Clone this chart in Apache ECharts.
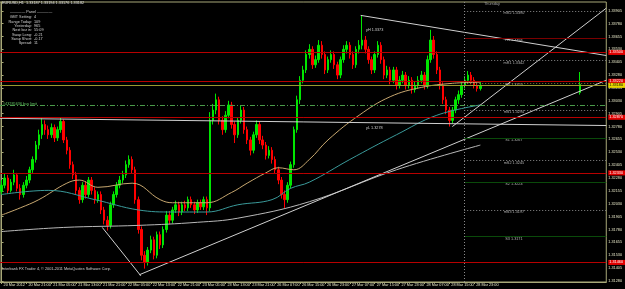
<!DOCTYPE html>
<html><head><meta charset="utf-8">
<script src="https://cdn.jsdelivr.net/npm/echarts@6/dist/echarts.min.js"></script>
<style>html,body{margin:0;padding:0;background:#000;overflow:hidden}#c{width:625px;height:289px}</style>
</head><body><div id="c"></div>
<script>
// ---- data ----
const priceTicks=[1.31280,1.31405,1.31530,1.31655,1.31780,1.31905,1.32030,1.32155,1.32280,1.32405,1.32530,1.32655,1.32780,1.32905,1.33030,1.33155,1.33280,1.33405,1.33530,1.33655,1.33780,1.33905];
const xTickLabels=['20 Mar 2012','20 Mar 21:00','21 Mar 05:00','21 Mar 13:00','21 Mar 21:00','22 Mar 05:00','22 Mar 13:00','22 Mar 21:00','23 Mar 05:00','23 Mar 13:00','23 Mar 21:00','26 Mar 07:00','26 Mar 15:00','26 Mar 23:00','27 Mar 07:00','27 Mar 15:00','27 Mar 23:00','28 Mar 07:00','28 Mar 15:00','28 Mar 23:00'];
// [open, close, low, high] per hourly bar
const candles=[
[1.3215,1.3221,1.3212,1.3226],[1.3221,1.3228,1.3218,1.3232],[1.3228,1.3216,1.3213,1.3231],[1.3216,1.3224,1.3214,1.3227],[1.3224,1.3231,1.3221,1.3236],
[1.3231,1.3218,1.3215,1.3233],[1.3218,1.3212,1.3207,1.3222],[1.3212,1.3221,1.3209,1.3224],[1.3221,1.3226,1.3218,1.3230],[1.3226,1.3236,1.3223,1.3239],
[1.3236,1.3246,1.3233,1.3249],[1.3246,1.3260,1.3243,1.3264],[1.3260,1.3270,1.3256,1.3275],[1.3270,1.3280,1.3266,1.3286],[1.3280,1.3275,1.3270,1.3284],
[1.3275,1.3270,1.3266,1.3279],[1.3270,1.3277,1.3267,1.3281],[1.3277,1.3267,1.3263,1.3280],[1.3267,1.3275,1.3264,1.3278],[1.3275,1.3283,1.3272,1.3287],
[1.3283,1.3265,1.3262,1.3285],[1.3265,1.3255,1.3251,1.3268],[1.3255,1.3241,1.3237,1.3258],[1.3241,1.3231,1.3227,1.3244],[1.3231,1.3216,1.3212,1.3234],
[1.3216,1.3207,1.3203,1.3219],[1.3207,1.3221,1.3204,1.3224],[1.3221,1.3212,1.3208,1.3225],[1.3212,1.3226,1.3209,1.3229],[1.3226,1.3216,1.3212,1.3229],
[1.3216,1.3207,1.3203,1.3219],[1.3207,1.3212,1.3204,1.3215],[1.3212,1.3197,1.3193,1.3215],[1.3197,1.3187,1.3183,1.3200],[1.3187,1.3182,1.3177,1.3191],
[1.3182,1.3202,1.3179,1.3205],[1.3202,1.3212,1.3199,1.3215],[1.3212,1.3221,1.3209,1.3224],[1.3221,1.3226,1.3218,1.3230],[1.3226,1.3231,1.3223,1.3235],
[1.3231,1.3241,1.3228,1.3245],[1.3241,1.3246,1.3238,1.3250],[1.3246,1.3236,1.3232,1.3249],[1.3236,1.3207,1.3203,1.3239],[1.3207,1.3178,1.3174,1.3210],
[1.3178,1.3153,1.3148,1.3181],[1.3153,1.3146,1.3140,1.3157],[1.3146,1.3158,1.3143,1.3161],[1.3158,1.3168,1.3155,1.3172],[1.3168,1.3153,1.3149,1.3171],
[1.3153,1.3173,1.3150,1.3176],[1.3173,1.3163,1.3159,1.3176],[1.3163,1.3178,1.3160,1.3181],[1.3178,1.3192,1.3175,1.3196],[1.3192,1.3187,1.3183,1.3196],
[1.3187,1.3197,1.3184,1.3200],[1.3197,1.3202,1.3194,1.3206],[1.3202,1.3195,1.3191,1.3205],[1.3195,1.3202,1.3192,1.3205],[1.3202,1.3199,1.3196,1.3206],
[1.3199,1.3207,1.3196,1.3210],[1.3207,1.3202,1.3199,1.3210],[1.3202,1.3197,1.3193,1.3205],[1.3197,1.3204,1.3194,1.3207],[1.3204,1.3200,1.3197,1.3207],
[1.3200,1.3207,1.3197,1.3210],[1.3207,1.3199,1.3192,1.3210],[1.3199,1.3284,1.3196,1.3292],[1.3284,1.3294,1.3280,1.3300],[1.3294,1.3304,1.3290,1.3310],
[1.3304,1.3284,1.3280,1.3307],[1.3284,1.3275,1.3270,1.3288],[1.3275,1.3289,1.3272,1.3293],[1.3289,1.3299,1.3286,1.3303],[1.3299,1.3280,1.3276,1.3302],
[1.3280,1.3270,1.3262,1.3283],[1.3270,1.3284,1.3267,1.3287],[1.3284,1.3294,1.3281,1.3298],[1.3294,1.3275,1.3271,1.3297],[1.3275,1.3265,1.3261,1.3278],
[1.3265,1.3255,1.3250,1.3268],[1.3255,1.3270,1.3252,1.3273],[1.3270,1.3280,1.3267,1.3284],[1.3280,1.3265,1.3261,1.3283],[1.3265,1.3260,1.3256,1.3269],
[1.3260,1.3250,1.3246,1.3263],[1.3250,1.3255,1.3247,1.3259],[1.3255,1.3246,1.3242,1.3258],[1.3246,1.3236,1.3232,1.3249],[1.3236,1.3226,1.3222,1.3239],
[1.3226,1.3212,1.3208,1.3229],[1.3212,1.3207,1.3199,1.3216],[1.3207,1.3221,1.3204,1.3224],[1.3221,1.3241,1.3218,1.3244],[1.3241,1.3275,1.3238,1.3278],
[1.3275,1.3304,1.3272,1.3308],[1.3304,1.3323,1.3300,1.3327],[1.3323,1.3333,1.3320,1.3337],[1.3333,1.3348,1.3330,1.3352],[1.3348,1.3353,1.3344,1.3358],
[1.3353,1.3338,1.3334,1.3356],[1.3338,1.3343,1.3335,1.3347],[1.3343,1.3357,1.3340,1.3362],[1.3357,1.3348,1.3344,1.3361],[1.3348,1.3333,1.3329,1.3351],
[1.3333,1.3343,1.3330,1.3346],[1.3343,1.3348,1.3340,1.3352],[1.3348,1.3338,1.3334,1.3351],[1.3338,1.3328,1.3324,1.3341],[1.3328,1.3343,1.3325,1.3346],
[1.3343,1.3353,1.3340,1.3357],[1.3353,1.3357,1.3349,1.3361],[1.3357,1.3348,1.3344,1.3360],[1.3348,1.3338,1.3334,1.3351],[1.3338,1.3353,1.3335,1.3356],
[1.3353,1.3357,1.3349,1.3362],[1.3357,1.3362,1.3353,1.3386],[1.3362,1.3353,1.3349,1.3366],[1.3353,1.3343,1.3339,1.3356],[1.3343,1.3333,1.3329,1.3346],
[1.3333,1.3348,1.3330,1.3351],[1.3348,1.3357,1.3345,1.3361],[1.3357,1.3343,1.3339,1.3360],[1.3343,1.3328,1.3324,1.3346],[1.3328,1.3333,1.3325,1.3337],
[1.3333,1.3323,1.3319,1.3336],[1.3323,1.3333,1.3320,1.3336],[1.3333,1.3318,1.3314,1.3336],[1.3318,1.3323,1.3315,1.3327],[1.3323,1.3328,1.3320,1.3332],
[1.3328,1.3318,1.3314,1.3331],[1.3318,1.3323,1.3315,1.3327],[1.3323,1.3314,1.3310,1.3326],[1.3314,1.3318,1.3311,1.3322],[1.3318,1.3323,1.3315,1.3327],
[1.3323,1.3328,1.3320,1.3332],[1.3328,1.3318,1.3314,1.3331],[1.3318,1.3343,1.3315,1.3347],[1.3343,1.3362,1.3340,1.3372],[1.3362,1.3348,1.3344,1.3366],
[1.3348,1.3333,1.3329,1.3351],[1.3333,1.3318,1.3314,1.3336],[1.3318,1.3304,1.3300,1.3321],[1.3304,1.3294,1.3290,1.3307],[1.3294,1.3284,1.3278,1.3297],
[1.3284,1.3294,1.3281,1.3297],[1.3294,1.3304,1.3291,1.3307],[1.3304,1.3309,1.3300,1.3313],[1.3309,1.3318,1.3306,1.3322],[1.3318,1.3323,1.3315,1.3327],
[1.3323,1.3328,1.3320,1.3332],[1.3328,1.3323,1.3319,1.3331],[1.3323,1.3318,1.3315,1.3326],[1.3318,1.3315,1.3312,1.3321],[1.3315,1.3318,1.3313,1.3321]
];
const extraCandleIndex=186;
const extraCandle=[1.3311,1.3319,1.3309,1.3331];
const maTan=[[0,1.3192],[6,1.3199],[12,1.3207],[21,1.3223],[25,1.3226],[31,1.3219],[42,1.3223],[51,1.3207],[55,1.3204],[66,1.3204],[74,1.3214],[79,1.3223],[85,1.3233],[89,1.3238],[94,1.3236],[99,1.3246],[105,1.3265],[115,1.3289],[125,1.3307],[135,1.3316],[145,1.3320],[154,1.3321]];
const maTeal=[[0,1.3212],[15,1.3216],[30,1.3207],[44,1.3197],[55,1.3195],[66,1.3195],[76,1.3202],[87,1.3207],[93,1.3218],[99,1.3224],[112,1.3246],[127,1.3270],[140,1.3289],[154,1.3299]];
const maGrey=[[0,1.3176],[20,1.3180],[44,1.3182],[63,1.3185],[76,1.3189],[99,1.3205],[127,1.3236],[154,1.3260]];
const trendLines=[[[115.5,1.3386],[194.5,1.3347]],[[44.3,1.3134],[194.5,1.3323]],[[145,1.3278],[194.5,1.3393]],[[-0.5,1.3286],[194.5,1.3279]],[[32.4,1.3180],[44.8,1.3133]]];
const levelLines=[1.3350,1.3322,1.3287,1.3233,1.3146];
const bidPrice=1.3318;
const buyLimit=1.3299;
const pivotNames=['mR2','R1','mR1','PP','mS1','S1','mS2','S2','mS3','S3'];
const pivotValues=[1.3390,1.3364,1.3342,1.3320,1.3294,1.3267,1.3245,1.3224,1.3197,1.3171];
const dayStartIndex=148.8;

// ---- chart ----
const N=195, YMIN=1.3127, YMAX=1.3399;
const cats=[];for(let i=0;i<N;i++)cats.push(String(i));
const cdata=[];for(let i=0;i<N;i++)cdata.push(i<candles.length?candles[i]:(i===extraCandleIndex?extraCandle:'-'));
const F='Liberation Sans, Arial, sans-serif';
const pivotStyle=n=>{
  if(n[0]==='m')return {color:'#8a8a8a',type:[1,2],width:1};
  if(n[0]==='R')return {color:'#7a0000',type:'solid',width:1};
  if(n[0]==='S')return {color:'#0a4a0a',type:'solid',width:1};
  return {color:'#7a7a3a',type:[1,2],width:1};
};
const axisTag=(p,bg,fg)=>({show:true,position:'end',distance:2,formatter:p.toFixed(5),color:fg,backgroundColor:bg,fontSize:3.8,fontFamily:F,padding:[1,4,0,1]});
const chart=echarts.init(document.getElementById('c'),null,{renderer:'canvas'});
const series=[
 {type:'candlestick',xAxisIndex:0,yAxisIndex:0,data:cdata,barWidth:2,
  itemStyle:{color:'#00e600',color0:'#ff0000',borderColor:'#00e600',borderColor0:'#ff0000',borderWidth:1}},
 {type:'line',xAxisIndex:1,yAxisIndex:0,data:maTan,smooth:0.4,showSymbol:false,lineStyle:{color:'#c8a870',width:1}},
 {type:'line',xAxisIndex:1,yAxisIndex:0,data:maTeal,smooth:0.4,showSymbol:false,lineStyle:{color:'#3a9a9a',width:1}},
 {type:'line',xAxisIndex:1,yAxisIndex:0,data:maGrey,smooth:0.4,showSymbol:false,lineStyle:{color:'#b8b8b8',width:1}}
];
trendLines.forEach(t=>series.push({type:'line',xAxisIndex:1,yAxisIndex:0,data:t,showSymbol:false,lineStyle:{color:'#d0d0d0',width:1}}));
series.push({type:'line',xAxisIndex:1,yAxisIndex:0,data:[],z:1,
  markLine:{silent:true,symbol:'none',animation:false,label:{show:false},
   data:levelLines.map(p=>[{coord:[-0.5,p],lineStyle:{color:'#b80000',type:'solid',width:1},label:axisTag(p,'#e00000','#fff')},{coord:[194.5,p]}])
    .concat([[{coord:[-0.5,bidPrice],lineStyle:{color:'#9a9a30',type:'solid',width:1},label:axisTag(bidPrice,'#e8d800','#000')},{coord:[194.5,bidPrice]}],
             [{coord:[-0.5,buyLimit],lineStyle:{color:'#4a9a4a',type:[5,2,1,2],width:1}},{coord:[194.5,buyLimit]}]])
    .concat(pivotNames.map((n,k)=>[{coord:[dayStartIndex,pivotValues[k]],lineStyle:pivotStyle(n)},{coord:[194.5,pivotValues[k]]}]))
    .concat([[{coord:[dayStartIndex,YMIN],lineStyle:{color:'#8a8a8a',type:[1,2],width:1}},{coord:[dayStartIndex,YMAX]}]])}});
series.push({type:'scatter',xAxisIndex:1,yAxisIndex:0,symbolSize:0,silent:true,
  data:pivotNames.map((n,k)=>[164.8,pivotValues[k],n+' '+pivotValues[k].toFixed(4)]),
  label:{show:true,position:'inside',offset:[0,2],formatter:p=>p.data[2],color:'#d8d8d8',fontSize:3.8,fontFamily:F}});

chart.setOption({
 animation:false,backgroundColor:'#000',
 grid:{left:0,right:15,top:2,bottom:7,show:true,borderColor:'#a8a878',borderWidth:1,backgroundColor:'#000'},
 xAxis:[
  {type:'category',data:cats,boundaryGap:true,show:false},
  {type:'value',min:-0.5,max:194.5,position:'bottom',
   axisLine:{show:true,lineStyle:{color:'#a8a878'}},
   axisTick:{show:true,length:2,customValues:xTickLabels.map((s,k)=>k*8),lineStyle:{color:'#a8a878'}},
   axisLabel:{show:true,customValues:xTickLabels.map((s,k)=>k*8),formatter:v=>xTickLabels[Math.round(v/8)]||'',
     align:'left',margin:1,fontSize:3.8,fontFamily:F,color:'#e8e8c8',padding:[0,0,0,2]},
   splitLine:{show:false}}
 ],
 yAxis:{type:'value',position:'right',min:YMIN,max:YMAX,scale:true,
   axisLine:{show:true,lineStyle:{color:'#a8a878'}},
   axisTick:{show:true,length:2,customValues:priceTicks,lineStyle:{color:'#a8a878'}},
   axisLabel:{show:true,customValues:priceTicks,formatter:v=>v.toFixed(5),margin:2,fontSize:3.8,fontFamily:F,color:'#e8e8c8'},
   splitLine:{show:false}},
 series:series,
 graphic:[
  {type:'text',x:2,y:1,style:{text:'EURUSD,H1  1.33187 1.33194 1.33176 1.33182',fill:'#e0e0e0',fontSize:3.8,fontFamily:F}},
  {type:'text',x:10,y:10,style:{text:'———— Panel ————',fill:'#d0d0d0',fontSize:3.8,fontFamily:F}},
  {type:'text',x:32,y:15,style:{text:'GMT Setting:\nRange Today:\nYesterday:\nNext bar in:\nSwap Long:\nSwap Short:\nSpread:',fill:'#d0d0d0',fontSize:3.8,fontFamily:F,align:'right',lineHeight:4.35}},
  {type:'text',x:34,y:15,style:{text:'4\n109\n965\n55:09\n-0.21\n-0.17\n11',fill:'#d0d0d0',fontSize:3.8,fontFamily:F,align:'left',lineHeight:4.35}},
  {type:'text',x:3,y:102,style:{text:'#43285636 buy limit',fill:'#60c060',fontSize:3.8,fontFamily:F}},
  {type:'text',x:2,y:267,style:{text:'Interbank FX Trader 4, © 2001-2011 MetaQuotes Software Corp.',fill:'#d0d0d0',fontSize:3.8,fontFamily:F}},
  {type:'text',x:484,y:2,style:{text:'Thursday',fill:'#a0a0a0',fontSize:3.8,fontFamily:F}},
  {type:'text',x:366,y:28,style:{text:'yH 1.3373',fill:'#d0d0d0',fontSize:3.8,fontFamily:F}},
  {type:'text',x:366,y:126,style:{text:'yL 1.3278',fill:'#d0d0d0',fontSize:3.8,fontFamily:F}}
 ]
});
</script></body></html>
